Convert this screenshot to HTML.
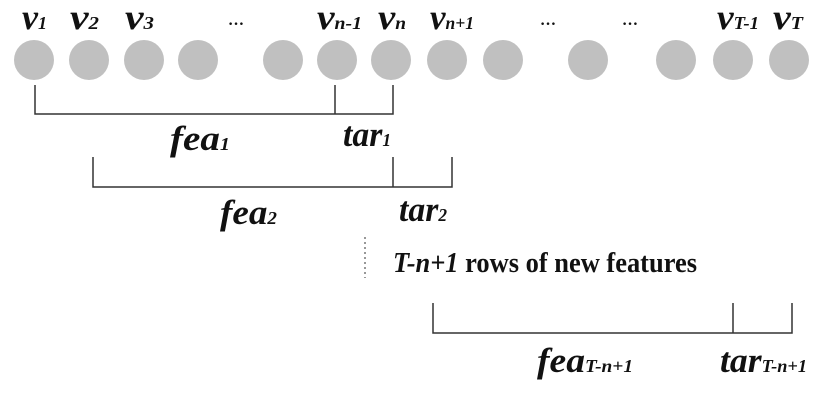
<!DOCTYPE html>
<html><head><meta charset="utf-8"><style>
html,body{margin:0;padding:0;background:#fff;width:826px;height:401px;overflow:hidden}
svg{display:block}
text{font-family:"Liberation Serif",serif;font-weight:bold;fill:#111}
.v{font-size:36px;font-style:italic}
.s{font-size:18px;font-style:italic}
.t{font-size:35px;font-style:italic}
</style></head><body>
<svg width="826" height="401">
<g id="nodes"></g>
<g>
<text x="22" y="29" class="v" textLength="25" lengthAdjust="spacingAndGlyphs">v<tspan class="s">1</tspan></text>
<text x="70" y="29" class="v" textLength="29" lengthAdjust="spacingAndGlyphs">v<tspan class="s">2</tspan></text>
<text x="125" y="29" class="v" textLength="29" lengthAdjust="spacingAndGlyphs">v<tspan class="s">3</tspan></text>
<text x="228" y="25" style="font-size:16px">…</text>
<text x="317" y="29" class="v" textLength="45" lengthAdjust="spacingAndGlyphs">v<tspan class="s">n-1</tspan></text>
<text x="378" y="29" class="v" textLength="28" lengthAdjust="spacingAndGlyphs">v<tspan class="s">n</tspan></text>
<text x="430" y="29" class="v" textLength="44" lengthAdjust="spacingAndGlyphs">v<tspan class="s">n+1</tspan></text>
<text x="540" y="25" style="font-size:16px">…</text>
<text x="622" y="25" style="font-size:16px">…</text>
<text x="717" y="29" class="v" textLength="42" lengthAdjust="spacingAndGlyphs">v<tspan class="s">T-1</tspan></text>
<text x="773" y="29" class="v" textLength="30" lengthAdjust="spacingAndGlyphs">v<tspan class="s">T</tspan></text>
</g>
<g stroke="#333" stroke-width="1.5" fill="none">
<path d="M35 85V114H393V85M335 85V114"/></g>
<text x="170" y="150" class="t" textLength="60" lengthAdjust="spacingAndGlyphs">fea<tspan class="s">1</tspan></text>
<text x="343" y="146" class="t" textLength="48" lengthAdjust="spacingAndGlyphs">tar<tspan class="s">1</tspan></text>
<g stroke="#333" stroke-width="1.5" fill="none">
<path d="M93 157V187H452V157M393 157V187"/></g>
<text x="220" y="224" class="t" textLength="57" lengthAdjust="spacingAndGlyphs">fea<tspan class="s">2</tspan></text>
<text x="399" y="221" class="t" textLength="48" lengthAdjust="spacingAndGlyphs">tar<tspan class="s">2</tspan></text>
<line x1="365" y1="237" x2="365" y2="278" stroke="#777" stroke-width="1.5" stroke-dasharray="2,3"/>
<text x="393" y="272" style="font-size:29px" textLength="304" lengthAdjust="spacingAndGlyphs"><tspan font-style="italic">T-n+1</tspan> rows of new features</text>
<g stroke="#333" stroke-width="1.5" fill="none">
<path d="M433 303V333H792V303M733 303V333"/></g>
<text x="537" y="372" class="t" textLength="96" lengthAdjust="spacingAndGlyphs">fea<tspan class="s">T-n+1</tspan></text>
<text x="720" y="372" class="t" textLength="87" lengthAdjust="spacingAndGlyphs">tar<tspan class="s">T-n+1</tspan></text>
</svg>
<script>
const nodeX=[34,89,144,198,283,337,391,447,503,588,676,733,789];
const g=document.getElementById('nodes');
nodeX.forEach(x=>{
 const e=document.createElementNS('http://www.w3.org/2000/svg','ellipse');
 e.setAttribute('cx',x);e.setAttribute('cy',60);e.setAttribute('rx',20);e.setAttribute('ry',20);
 e.setAttribute('fill','#c0c0c0');
 
 
 g.appendChild(e);
});
</script>
</body></html>
